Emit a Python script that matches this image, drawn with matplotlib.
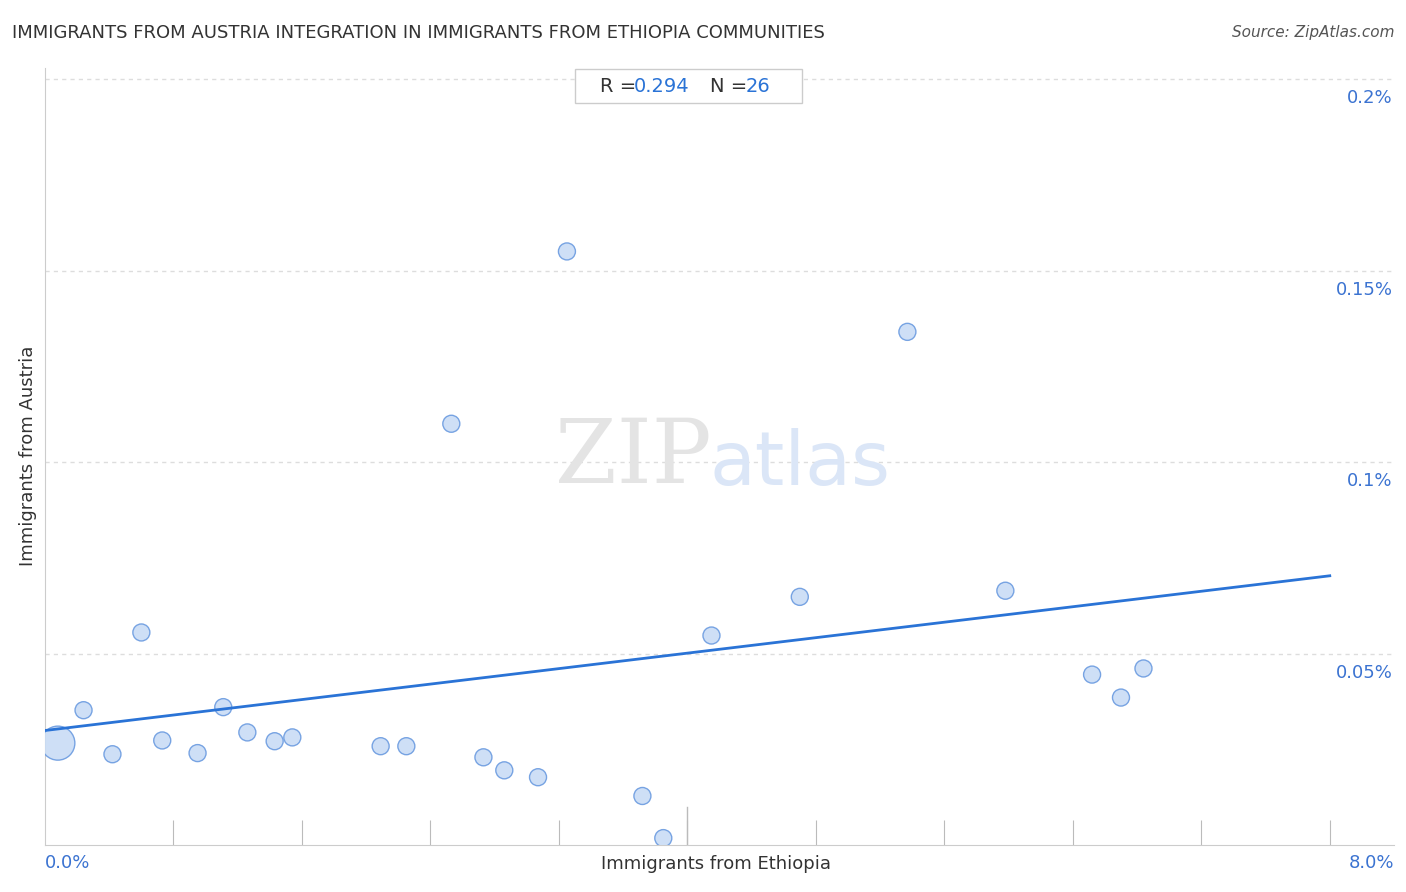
import numpy as np
import matplotlib.pyplot as plt
from matplotlib.patches import Rectangle

# Immigrants from Ethiopia (%) vs Immigrants from Austria (%)
ethiopia = [0.08, 0.24, 0.42, 0.60, 0.73, 0.95, 1.11, 1.26, 1.43, 1.54, 2.09, 2.25, 2.53,
            2.73, 2.86, 3.07, 3.25, 3.72, 3.85, 4.15, 4.70, 5.37, 5.98, 6.52, 6.70, 6.84]
austria = [0.0266, 0.0352, 0.0237, 0.0555, 0.0273, 0.0240, 0.0360, 0.0294, 0.0271, 0.0281,
           0.0258, 0.0258, 0.1100, 0.0229, 0.0195, 0.0177, 0.1550, 0.0128, 0.0018, 0.0547,
           0.0648, 0.1340, 0.0664, 0.0445, 0.0385, 0.0461]
sizes = [600] + [150] * 25
trend_intercept = 0.0299
trend_slope = 0.00505
ytick_vals = [0.05, 0.1, 0.15, 0.2]
ytick_labels = ["0.05%", "0.1%", "0.15%", "0.2%"]

fig = plt.figure(figsize=(14.06, 8.92), dpi=100)
ax = fig.add_axes([45 / 1406, 1 - 845 / 892, 1349 / 1406, 777 / 892])
ax.set_xlim(0, 8.4)
ax.set_ylim(0, 0.2029)

for v, lab in zip(ytick_vals, ytick_labels):
    ax.axhline(v, color="#dddddd", lw=1, ls=(0, (3, 3)), zorder=0)
    ax.text(8.39, v - 0.005, lab, ha="right", va="center", color="#3b73d1", fontsize=13)

ax.scatter(ethiopia, austria, s=sizes, color="#c9dcf5", edgecolor="#6b9be0", lw=1, alpha=0.9, zorder=3)
xs = np.array([0, 8.0])
ax.plot(xs, trend_intercept + trend_slope * xs, color="#2a73d6", lw=2, zorder=4)

for s in ["top", "right"]:
    ax.spines[s].set_visible(False)
ax.spines["left"].set_color("#cccccc")
ax.spines["bottom"].set_color("#cccccc")
ax.set_yticks([])
ax.set_xticks(np.arange(0.8, 8.01, 0.8))
ax.set_xticklabels([])
ax.tick_params(axis="x", direction="in", length=18, color="#bbbbbb")
ax.plot([4.0, 4.0], [0, 0.01], color="#bbbbbb", lw=1)

fig.text(45 / 1406, 1 - 863 / 892, "0.0%", ha="left", va="center", color="#3b73d1", fontsize=13)
fig.text(1394 / 1406, 1 - 863 / 892, "8.0%", ha="right", va="center", color="#3b73d1", fontsize=13)
fig.text(716 / 1406, 1 - 864 / 892, "Immigrants from Ethiopia", ha="center", va="center", fontsize=13, color="#333333")
fig.text(28 / 1406, 1 - 456 / 892, "Immigrants from Austria", ha="center", va="center", rotation=90, fontsize=13, color="#333333")
fig.text(12 / 1406, 1 - 33 / 892, "IMMIGRANTS FROM AUSTRIA INTEGRATION IN IMMIGRANTS FROM ETHIOPIA COMMUNITIES",
         ha="left", va="center", fontsize=13, color="#333333")
fig.text(1394 / 1406, 1 - 33 / 892, "Source: ZipAtlas.com", ha="right", va="center", fontsize=11, style="italic", color="#555555")

fig.patches.append(Rectangle((575 / 1406, 1 - 103 / 892), 227 / 1406, 34 / 892,
                             transform=fig.transFigure, fc="white", ec="#cccccc", lw=1, zorder=5))
fig.text(600 / 1406, 1 - 86 / 892, "R = ", ha="left", va="center", fontsize=14, color="#333333", zorder=6)
fig.text(634 / 1406, 1 - 86 / 892, "0.294", ha="left", va="center", fontsize=14, color="#2a73d6", zorder=6)
fig.text(710 / 1406, 1 - 86 / 892, "N = ", ha="left", va="center", fontsize=14, color="#333333", zorder=6)
fig.text(746 / 1406, 1 - 86 / 892, "26", ha="left", va="center", fontsize=14, color="#2a73d6", zorder=6)

fig.text(633 / 1406, 1 - 458 / 892, "ZIP", ha="center", va="center", fontsize=64, family="serif", color="#e4e4e4", zorder=0)
fig.text(800 / 1406, 1 - 465 / 892, "atlas", ha="center", va="center", fontsize=54, color="#dbe6f7", zorder=0)

fig.savefig("out.png", dpi=100)
